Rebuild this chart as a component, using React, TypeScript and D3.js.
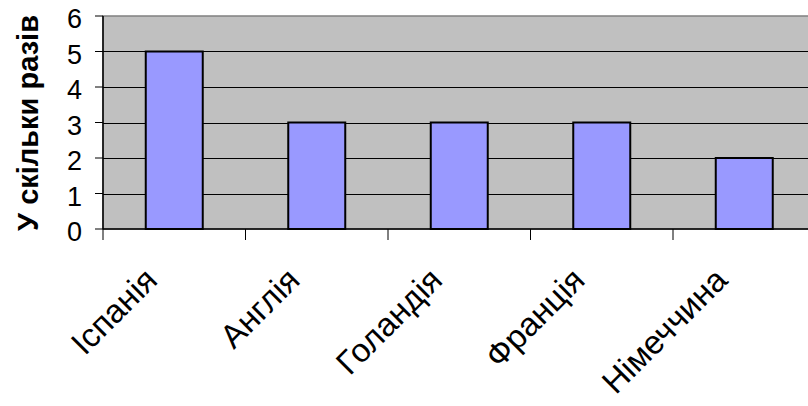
import React, { useEffect, useRef } from "react";
import * as d3 from "d3";

const countries = ["Іспанія", "Англія", "Голандія", "Франція", "Німеччина"];
const timesValues = [5, 3, 3, 3, 2];
const yTicks = [0, 1, 2, 3, 4, 5, 6];
const yTitle = "У скільки разів";

const App = () => {
  const ref = useRef<SVGSVGElement | null>(null);

  useEffect(() => {
    if (!ref.current) return;
    const svg = d3.select(ref.current);
    svg.selectAll("*").remove();

    const left = 103;
    const top = 16;
    const bottom = 229;
    const right = 815.5;

    const x = d3
      .scaleBand<string>()
      .domain(countries)
      .range([left, right])
      .paddingInner(0.6)
      .paddingOuter(0.3);
    const y = d3.scaleLinear().domain([0, 6]).range([bottom, top]);
    const step = x.step();

    // plot background
    svg
      .append("rect")
      .attr("x", left)
      .attr("y", top)
      .attr("width", right - left)
      .attr("height", bottom - top)
      .attr("fill", "#c0c0c0")
      .attr("stroke", "#808080")
      .attr("stroke-width", 1.5);

    // gridlines
    svg
      .append("g")
      .selectAll("line")
      .data(yTicks.filter((d) => d > 0 && d < 6))
      .join("line")
      .attr("x1", left)
      .attr("x2", right)
      .attr("y1", (d) => Math.round(y(d)) + 0.5)
      .attr("y2", (d) => Math.round(y(d)) + 0.5)
      .attr("stroke", "#000")
      .attr("stroke-width", 1);

    // bars
    svg
      .append("g")
      .selectAll("rect")
      .data(countries)
      .join("rect")
      .attr("x", (d) => x(d)!)
      .attr("y", (d, i) => y(timesValues[i]))
      .attr("width", x.bandwidth())
      .attr("height", (d, i) => bottom - y(timesValues[i]))
      .attr("fill", "#9999ff")
      .attr("stroke", "#000")
      .attr("stroke-width", 2);

    // y axis
    svg
      .append("line")
      .attr("x1", left)
      .attr("x2", left)
      .attr("y1", top)
      .attr("y2", bottom)
      .attr("stroke", "#000")
      .attr("stroke-width", 1.5);
    svg
      .append("g")
      .selectAll("line")
      .data(yTicks)
      .join("line")
      .attr("x1", left - 8)
      .attr("x2", left)
      .attr("y1", (d) => y(d))
      .attr("y2", (d) => y(d))
      .attr("stroke", "#000")
      .attr("stroke-width", 1);
    svg
      .append("g")
      .selectAll("text")
      .data(yTicks)
      .join("text")
      .attr("x", 82)
      .attr("y", (d) => y(d) + 12)
      .attr("text-anchor", "end")
      .style("font-family", "'Liberation Sans', Arial, sans-serif")
      .style("font-size", "27px")
      .text((d) => d);

    // x axis
    svg
      .append("line")
      .attr("x1", left)
      .attr("x2", right)
      .attr("y1", bottom)
      .attr("y2", bottom)
      .attr("stroke", "#000")
      .attr("stroke-width", 1.5);
    svg
      .append("g")
      .selectAll("line")
      .data(d3.range(countries.length + 1))
      .join("line")
      .attr("x1", (i) => left + i * step)
      .attr("x2", (i) => left + i * step)
      .attr("y1", bottom)
      .attr("y2", bottom + 11)
      .attr("stroke", "#000")
      .attr("stroke-width", 1);
    svg
      .append("g")
      .selectAll("text")
      .data(countries)
      .join("text")
      .attr(
        "transform",
        (d) => `translate(${x(d)! + x.bandwidth() / 2 - 15},282) rotate(-45)`
      )
      .attr("text-anchor", "end")
      .style("font-family", "'Liberation Sans', Arial, sans-serif")
      .style("font-size", "33px")
      .text((d) => d);

    // y title
    svg
      .append("text")
      .attr("transform", "translate(38,123) rotate(-90)")
      .attr("text-anchor", "middle")
      .style("font-family", "'Liberation Sans', Arial, sans-serif")
      .style("font-size", "29px")
      .style("font-weight", "bold")
      .text(yTitle);
  }, []);

  return (
    <svg
      ref={ref}
      width={808}
      height={406}
      style={{ position: "absolute", left: 0, top: 0, background: "#fff" }}
    />
  );
};

export default App;
